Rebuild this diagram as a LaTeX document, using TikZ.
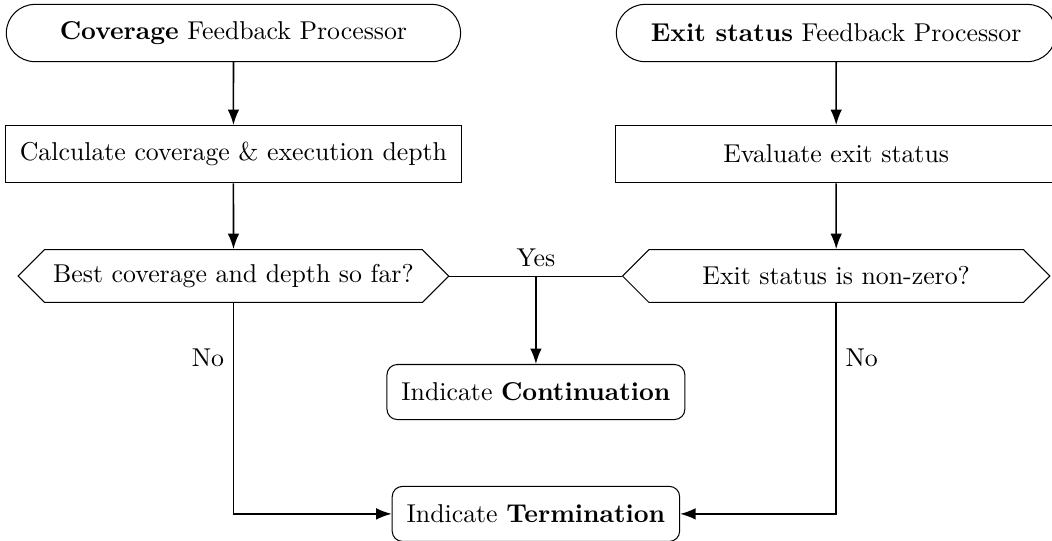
\documentclass[tikz,border=0pt]{standalone}
\usetikzlibrary{shapes.misc,shapes.symbols,arrows.meta}

\tikzset{
  procnode/.style={draw, rounded rectangle, minimum height=0.78cm, inner xsep=8pt},
  stepbox/.style={draw, rectangle, minimum height=0.78cm},
  decision/.style={draw, signal, signal to=west and east, minimum height=0.72cm},
  outcome/.style={draw, rounded corners=4pt, minimum height=0.75cm, inner xsep=5.6pt},
  flow/.style={-{Latex[length=6pt,width=4.5pt]}, semithick},
}

\begin{document}
\begin{tikzpicture}
    \useasboundingbox (0,0) rectangle (14.33,-7.36);

    % Feedback processors
    \node[procnode, minimum width=6.75cm] (covproc) at (3.18,-0.45) {\textbf{Coverage} Feedback Processor};
    \node[procnode, minimum width=6.55cm] (exitproc) at (11.39,-0.45) {\textbf{Exit status} Feedback Processor};

    % Evaluation steps
    \node[stepbox, minimum width=6.2cm] (covcalc) at (3.18,-2.10) {Calculate coverage \& execution depth};
    \node[stepbox, minimum width=6.0cm] (exiteval) at (11.39,-2.10) {Evaluate exit status};

    % Decisions
    \node[decision, minimum width=5.86cm] (covbest) at (3.18,-3.76) {Best coverage and depth so far?};
    \node[decision, minimum width=5.82cm] (exitnz) at (11.39,-3.76) {Exit status is non-zero?};

    % Outcomes
    \node[outcome] (cont) at (7.30,-5.34) {Indicate \textbf{Continuation}};
    \node[outcome] (term) at (7.30,-7.00) {Indicate \textbf{Termination}};

    % Connectors
    \draw[flow] (covproc) -- (covcalc);
    \draw[flow] (exitproc) -- (exiteval);
    \draw[flow] (covcalc) -- (covbest);
    \draw[flow] (exiteval) -- (exitnz);

    \coordinate (yesjoin) at (7.30,-3.76);
    \draw[thin] (covbest.east) -- (exitnz.west);
    \node[above] (yeslabel) at (yesjoin) {Yes};
    \draw[flow] (yesjoin) -- (cont);

    \draw[flow] (covbest.south) |- node[pos=0.13, left] (nolabelA) {No} (term.west);
    \draw[flow] (exitnz.south) |- node[pos=0.13, right] (nolabelB) {No} (term.east);
\end{tikzpicture}
\end{document}
